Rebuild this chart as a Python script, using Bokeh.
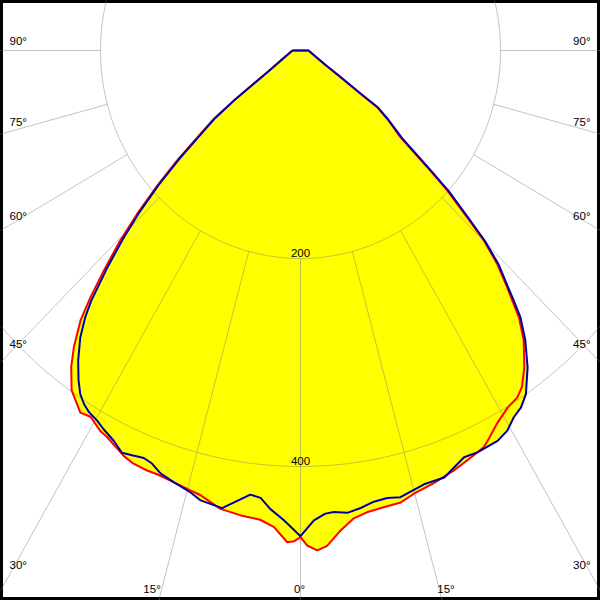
import numpy as np
from bokeh.plotting import figure
from bokeh.models import Range1d
from bokeh.core.properties import value
from bokeh.embed import file_html
from bokeh.resources import INLINE

# ---- data (angle in degrees from nadir, intensity in cd) ----
red_angle = [-90, -64.4, -57.9, -55.5, -54.2, -52.8, -51.3, -49.4, -47.8, -46.1, -44.6, -42.9,
             -41.5, -40.3, -38.5, -37.0, -35.0, -32.3, -30.8, -28.7, -27.5, -24.4, -22.8, -20.8,
             -19.4, -17.0, -14.6, -13.2, -10.3, -7.6, -5.1, -3.3, -1.6, -0.8, 0, 0.8, 2.0, 3.2,
             5.0, 6.75, 8.5, 10.7, 13.0, 14.9, 17.7, 20.8, 24.0, 25.7, 26.8, 28.7, 31.1, 33.0,
             34.4, 36.3, 38.7, 40.4, 41.4, 42.2, 43.8, 45.1, 46.1, 47.5, 48.5, 50.2, 52.8, 54.6,
             55.3, 57.3, 61.2, 90]
red_cd = [8, 22, 39, 61, 82, 109, 128, 163, 193, 227, 257, 289,
          317, 340, 364, 381, 399, 412, 410, 417, 419, 428, 431, 432,
          432, 434, 437, 439, 448, 451, 453, 459, 473, 472, 468, 476, 481, 477,
          463, 453, 449, 447, 446, 441, 437, 432, 426, 423, 418, 409, 401, 398,
          392, 378, 357, 337, 320, 308, 284, 259, 231, 199, 169, 130, 109, 94,
          73, 48, 27, 8]

blue_angle = [-90, -64.4, -57.9, -55.3, -54.2, -52.7, -51.2, -49.3, -47.7, -46.0, -44.4, -42.7,
              -41.0, -40.0, -38.6, -36.7, -35.0, -33.7, -32.5, -31.3, -29.7, -28.4, -26.5, -24.8,
              -23.4, -21.8, -20.5, -19.0, -17.0, -14.5, -13.0, -10.1, -6.7, -5.3, -3.9, -2.1, 0,
              1.7, 3.2, 4.3, 6.0, 7.8, 9.6, 11.4, 13.1, 16.5, 19.3, 22.7, 24.6, 27.7, 29.5, 31.2,
              32.7, 34.3, 36.7, 38.9, 40.6, 41.6, 42.3, 43.9, 45.2, 46.2, 47.6, 48.6, 50.3, 52.9,
              54.7, 55.4, 57.4, 61.2, 90]
blue_cd = [8, 21, 38, 60, 81, 107, 126, 160, 191, 224, 254, 286,
           319, 335, 353, 372, 387, 397, 403, 407, 410, 414, 419, 426,
           424, 422, 424, 430, 434, 439, 444, 447, 430, 432, 442, 452, 467,
           452, 446, 445, 447, 444, 440, 439, 441, 435, 435, 424, 425, 424, 420, 412,
           408, 400, 380, 358, 338, 321, 309, 286, 260, 233, 201, 171, 132, 110,
           95, 74, 49, 28, 8]

ring_values = [200, 400]
ring_labels = ["200", "400"]
spoke_angles = [-90, -75, -60, -45, -30, -15, 0, 15, 30, 45, 60, 75, 90]
side_angles = [90, 75, 60, 45, 30]
side_labels = ["90°", "75°", "60°", "45°", "30°"]
bottom_angles = [-15, 0, 15]
bottom_labels = ["15°", "0°", "15°"]

# ---- geometry (reference pixels) ----
W, H = 600, 600
CX, CY = 300.0, 50.0     # pole position
SX, SY = 1.0, 1.04       # px per cd
HALF_CAP = 4.2           # half of the label cap height (px)


def to_xy(angle, cd):
    t = np.radians(np.asarray(angle, dtype=float))
    cd = np.asarray(cd, dtype=float)
    return cd * np.sin(t), -cd * np.cos(t)


def px(X, Y):
    return (X - CX) / SX, -(Y - CY) / SY


p = figure(width=W, height=H, output_backend="svg", toolbar_location=None,
           x_range=Range1d((0 - CX) / SX, (W - CX) / SX),
           y_range=Range1d(-(H - CY) / SY, -(0 - CY) / SY),
           min_border=0, min_border_left=0, min_border_right=0,
           min_border_top=0, min_border_bottom=0)
p.axis.visible = False
p.grid.visible = False
p.outline_line_color = "black"
p.outline_line_width = 5
p.background_fill_color = "white"
p.border_fill_color = "white"

# fills (union of both planes)
rx, ry = to_xy(red_angle, red_cd)
bx, by = to_xy(blue_angle, blue_cd)
p.patch(list(rx), list(ry), fill_color="#ffff00", line_color=None)
p.patch(list(bx), list(by), fill_color="#ffff00", line_color=None)

# grid
GRID = "#7a7a7a"
ga = np.linspace(-180, 180, 1441)
for r in ring_values:
    gx, gy = to_xy(ga, np.full_like(ga, r))
    p.line(gx, gy, line_color=GRID, line_alpha=0.45, line_width=1)
for a in spoke_angles:
    sx, sy = to_xy([a, a], [ring_values[0], 1000])
    p.line(sx, sy, line_color=GRID, line_alpha=0.45, line_width=1)

# curves
p.line(list(rx) + [rx[0]], list(ry) + [ry[0]], line_color="#ff0000", line_width=2)
p.line(list(bx) + [bx[0]], list(by) + [by[0]], line_color="#0000a8", line_width=2)

FONT = value("Liberation Sans")
FS = "11.5px"


def label(X, baseline_Y, txt, align):
    x, y = px(X, baseline_Y - HALF_CAP)
    p.text([x], [y], text=[txt], text_align=align, text_baseline="middle",
           text_font=FONT, text_font_size=FS, text_color="black")


# ring labels
for r, lab in zip(ring_values, ring_labels):
    label(CX, CY + r * SY - 1.5, lab, "center")

# side labels (left & right)
for a, lab in zip(side_angles, side_labels):
    t = np.radians(a)
    dist = CX - 9
    yl = CY if a == 90 else CY + SY * dist / np.tan(t)
    base = yl - 5
    label(9, base, lab, "left")
    label(590, base, lab, "right")

# bottom labels
BASE_Y = 592.5
for a, lab in zip(bottom_angles, bottom_labels):
    t = np.radians(a)
    xline = CX + np.tan(t) * (BASE_Y - CY) / SY * SX
    if a < 0:
        label(xline, BASE_Y, lab, "right")
    elif a > 0:
        label(xline - 3, BASE_Y, lab, "left")
    else:
        label(xline - 1, BASE_Y, lab, "center")

open("out.html", "w").write(file_html(p, INLINE))
